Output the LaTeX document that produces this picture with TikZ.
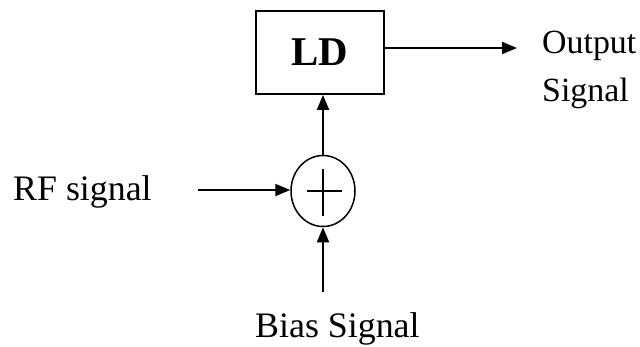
\documentclass[tikz,border=0pt]{standalone}
\usepackage{fontspec}
\setmainfont{Liberation Serif}
\usetikzlibrary{arrows.meta,shapes.geometric}
\tikzset{
  conn/.style={line width=1.8bp,-{Triangle[length=15bp,width=12bp]}},
  lbl/.style={inner sep=0pt,font=\fontsize{36}{48}\selectfont},
  blk/.style={draw,line width=1.8bp,minimum width=128bp,minimum height=83bp,inner sep=0pt,font=\fontsize{41}{48}\selectfont\bfseries},
  summer/.style={draw,ellipse,line width=1.5bp,minimum width=64bp,minimum height=71bp,inner sep=0pt}
}
\begin{document}
\begin{tikzpicture}[x=1bp,y=-1bp]
\useasboundingbox (0,0) rectangle (640,346);
\node[blk] (ld) at (320,52.5) {LD};
\node[summer] (sum) at (323,191) {};
\draw[line width=1.5bp] ([xshift=-16bp]sum.center) -- ([xshift=19bp]sum.center);
\draw[line width=1.5bp] ([yshift=22bp]sum.center) -- ([yshift=-25bp]sum.center);
\coordinate (outend) at (517,48);
\coordinate (rfstart) at (198,190);
\coordinate (biasstart) at (323,292);
\node[lbl,anchor=base west] (rf) at (13,200) {RF signal};
\node[lbl,anchor=base west] (bias) at (255,337) {Bias Signal};
\node[lbl,anchor=north west,align=left,font=\fontsize{34}{48}\selectfont] (out) at (542,31) {Output\\Signal};
\draw[conn] (ld.east |- outend) -- (outend);
\draw[conn] (sum.north) -- (ld.south -| sum.north);
\draw[conn] (rfstart) -- (sum.west |- rfstart);
\draw[conn] (biasstart) -- (sum.south);
\end{tikzpicture}
\end{document}
